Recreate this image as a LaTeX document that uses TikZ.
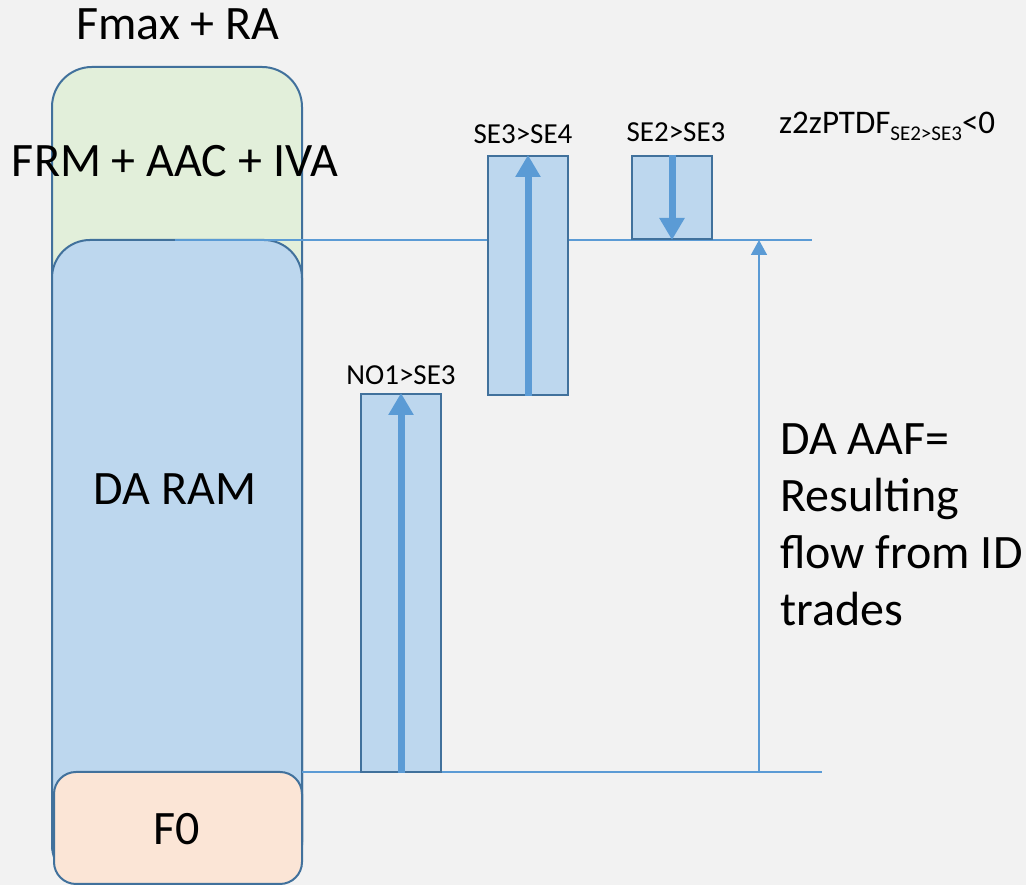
\documentclass[tikz,border=0pt]{standalone}
\usepackage{fontspec}
\setmainfont{Carlito}
\usetikzlibrary{arrows.meta,positioning}
\definecolor{bggray}{HTML}{F2F2F2}
\definecolor{boxline}{HTML}{41719C}
\definecolor{boxblue}{HTML}{BDD7EE}
\definecolor{flowblue}{HTML}{5B9BD5}
\definecolor{boxgreen}{HTML}{E2EFDA}
\definecolor{boxpeach}{HTML}{FBE5D6}
\tikzset{
  tradebox/.style={draw=boxline, line width=2pt, fill=boxblue, minimum width=80pt, inner sep=0pt, anchor=south west},
  tradearrow/.style={flowblue, line width=7pt, -{Triangle[width=24pt,length=22pt]}},
  thinline/.style={flowblue, line width=1.5pt},
  biglabel/.style={font=\fontsize{48}{57}\selectfont},
  smalllabel/.style={font=\fontsize{29}{34}\selectfont},
}
\begin{document}
\begin{tikzpicture}[x=1pt,y=1pt]
        \useasboundingbox[fill=bggray] (0,0) rectangle (1026,885);
        % capacity stack
        \draw[boxline, line width=2pt, fill=boxgreen, rounded corners=40pt] (52,3) rectangle (302,818);
        \draw[boxline, line width=2pt, fill=boxblue, rounded corners=38pt] (52,2) rectangle (302,645);
        \draw[boxline, line width=2pt, fill=boxpeach, rounded corners=22pt] (54,1) rectangle (302,113);
        \node[biglabel, anchor=base] (fmax) at (178,845) {Fmax + RA};
        \node[biglabel, anchor=base] (frm) at (175,708) {FRM + AAC + IVA};
        \node[biglabel, anchor=base] (ram) at (175,380) {DA RAM};
        \node[biglabel, anchor=base] (fzero) at (177,40) {F0};
        % reference levels
        \coordinate (topleft) at (175,645);
        \coordinate (topright) at (812,645);
        \coordinate (botleft) at (302,113);
        \coordinate (botright) at (822,113);
        \coordinate (aaftop) at (759,645);
        \coordinate (aafbot) at (759,113);
        \draw[thinline] (topleft) -- (topright);
        \draw[thinline] (botleft) -- (botright);
        \draw[thinline, -{Triangle[width=16pt,length=15pt]}] (aafbot) -- (aaftop);
        % ID trades
        \node[tradebox, minimum height=378pt] (no1se3) at (360,112) {};
        \node[tradebox, minimum height=239pt] (se3se4) at (487,489) {};
        \node[tradebox, minimum height=83pt] (se2se3) at (631,645) {};
        \draw[tradearrow] (no1se3.south) -- (no1se3.north);
        \draw[tradearrow] (se3se4.south) -- (se3se4.north);
        \draw[tradearrow] (se2se3.north) -- (se2se3.south);
        \node[smalllabel, above=5pt of no1se3] (lno1) {NO1>SE3};
        \node[smalllabel, above=8pt of se3se4, xshift=-5pt] (lse34) {SE3>SE4};
        \node[smalllabel, above=10pt of se2se3, xshift=4pt] (lse23) {SE2>SE3};
        \node[font=\fontsize{33}{38}\selectfont, anchor=base west, inner sep=0pt] (ptdf) at (779,751)
          {z2zPTDF\raisebox{-7pt}{\fontsize{21}{24}\selectfont SE2>SE3}<0};
        \node[biglabel, anchor=base west, align=left, inner sep=0pt] (aaf) at (780,259) {DA AAF=\\Resulting\\flow from ID\\trades};
      \end{tikzpicture}
\end{document}
